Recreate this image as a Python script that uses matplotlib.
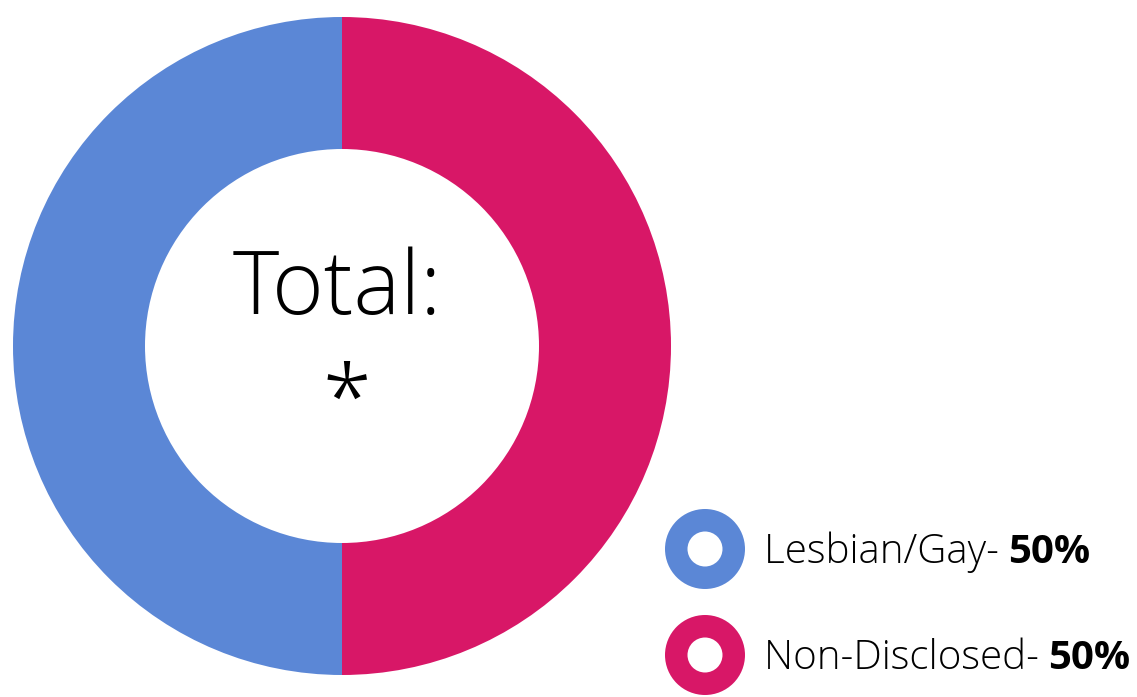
import matplotlib
matplotlib.use("Agg")
import matplotlib.pyplot as plt
from matplotlib.patches import Circle

labels = ["Lesbian/Gay", "Non-Disclosed"]
values = [50, 50]
colors = ["#5B87D6", "#D81767"]
center_title = "Total:"
center_value = "*"

W, H = 1137, 697
fig = plt.figure(figsize=(W / 100, H / 100), dpi=100)
ax = fig.add_axes([0, 0, 1, 1])

cx, cy = 342, H - 346
R, r = 329, 197
ax.pie(values, colors=colors, startangle=90,
       center=(cx, cy), radius=R, wedgeprops=dict(width=R - r, linewidth=0),
       frame=True)
ax.set_xlim(0, W)
ax.set_ylim(0, H)
ax.set_aspect("equal")
ax.axis("off")

fam = "Open Sans"
ax.text(cx - 5, H - 314, center_title, fontsize=63.5, family=fam, weight="light",
        ha="center", va="baseline")
ax.text(cx + 5, H - 428, center_value, fontsize=63.5, family=fam, weight="light",
        ha="center", va="baseline")

fig.canvas.draw()
renderer = fig.canvas.get_renderer()
ys = [H - 549, H - 655]
for lab, val, col, y in zip(labels, values, colors, ys):
    ax.add_patch(Circle((705, y), 40, facecolor=col, edgecolor="none"))
    ax.add_patch(Circle((705, y), 17.5, facecolor="white", edgecolor="none"))
    t = ax.text(764, y - 14, f"{lab}- ", fontsize=29, family=fam, weight="light",
                ha="left", va="baseline")
    bb = t.get_window_extent(renderer=renderer)
    ax.text(bb.x1 * W / fig.bbox.width - 1, y - 14, f"{val}%", fontsize=29, family=fam,
            weight="bold", ha="left", va="baseline")

fig.savefig("out.png", dpi=100)
